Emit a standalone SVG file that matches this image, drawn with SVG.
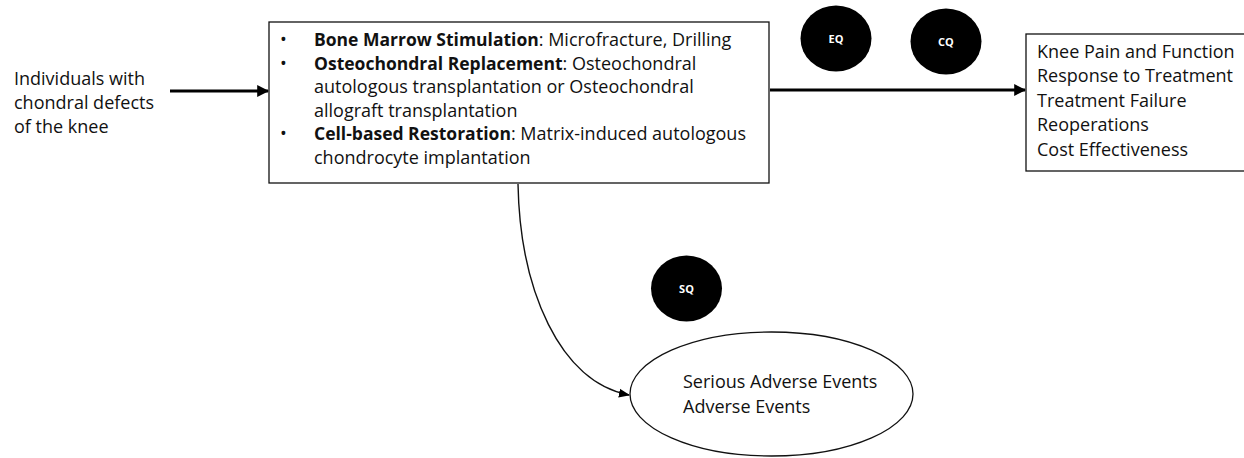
<svg xmlns="http://www.w3.org/2000/svg" width="1244" height="458" viewBox="0 0 1244 458">
<style>
text{font-family:"Open Sans","Noto Sans","Liberation Sans",sans-serif;font-size:18px;fill:#111}
.b{font-weight:bold;font-size:17.5px}
.box{fill:#fff;stroke:#111;stroke-width:1.3}
.q{fill:#000}
.ql{font-size:11px;font-weight:bold;fill:#fff;text-anchor:middle}
.thick{stroke:#000;stroke-width:3;fill:none}
.thin{stroke:#111;stroke-width:1.4;fill:none}
</style>
<defs>
<marker id="ah" viewBox="0 0 10 10" refX="9" refY="5" markerWidth="4" markerHeight="4" orient="auto" markerUnits="strokeWidth">
<path d="M0,0 L10,5 L0,10 z" fill="#000"/>
</marker>
<marker id="ah2" viewBox="0 0 10 10" refX="9" refY="5" markerWidth="8" markerHeight="8" orient="auto" markerUnits="strokeWidth">
<path d="M0,1 L10,5 L0,9 z" fill="#000"/>
</marker>
</defs>
<g id="population">
<text x="14" y="85">Individuals with</text>
<text x="14" y="109">chondral defects</text>
<text x="14" y="133">of the knee</text>
</g>
<g id="interventions">
<rect class="box" x="269" y="22" width="500" height="161"/>
<text x="280" y="46">•</text>
<text x="314" y="46"><tspan class="b">Bone Marrow Stimulation</tspan>: Microfracture, Drilling</text>
<text x="280" y="70">•</text>
<text x="314" y="70"><tspan class="b">Osteochondral Replacement</tspan>: Osteochondral</text>
<text x="314" y="93">autologous transplantation or Osteochondral</text>
<text x="314" y="117">allograft transplantation</text>
<text x="280" y="140">•</text>
<text x="314" y="140"><tspan class="b">Cell-based Restoration</tspan>: Matrix-induced autologous</text>
<text x="314" y="164">chondrocyte implantation</text>
</g>
<g id="outcomes">
<rect class="box" x="1026" y="34" width="230" height="137"/>
<text x="1037" y="58">Knee Pain and Function</text>
<text x="1037" y="82">Response to Treatment</text>
<text x="1037" y="107">Treatment Failure</text>
<text x="1037" y="131">Reoperations</text>
<text x="1037" y="156">Cost Effectiveness</text>
</g>
<g id="harms">
<ellipse class="box" cx="771.5" cy="394" rx="141.5" ry="62"/>
<text x="683" y="388">Serious Adverse Events</text>
<text x="683" y="413">Adverse Events</text>
</g>
<g id="eq">
<ellipse class="q" cx="836" cy="38.5" rx="35.5" ry="33"/>
<text class="ql" x="836" y="42.5">EQ</text>
</g>
<g id="cq">
<ellipse class="q" cx="946" cy="41.5" rx="35.5" ry="33"/>
<text class="ql" x="946" y="45.5">CQ</text>
</g>
<g id="sq">
<ellipse class="q" cx="686.5" cy="288.5" rx="35.5" ry="33"/>
<text class="ql" x="686.5" y="292.5">SQ</text>
</g>
<g id="connectors">
<line class="thick" x1="170" y1="91" x2="268" y2="91" marker-end="url(#ah)"/>
<line class="thick" x1="770" y1="90" x2="1025" y2="90" marker-end="url(#ah)"/>
<path class="thin" d="M518,184 C520,290 560,382 629,395" marker-end="url(#ah2)"/>
</g>
</svg>
